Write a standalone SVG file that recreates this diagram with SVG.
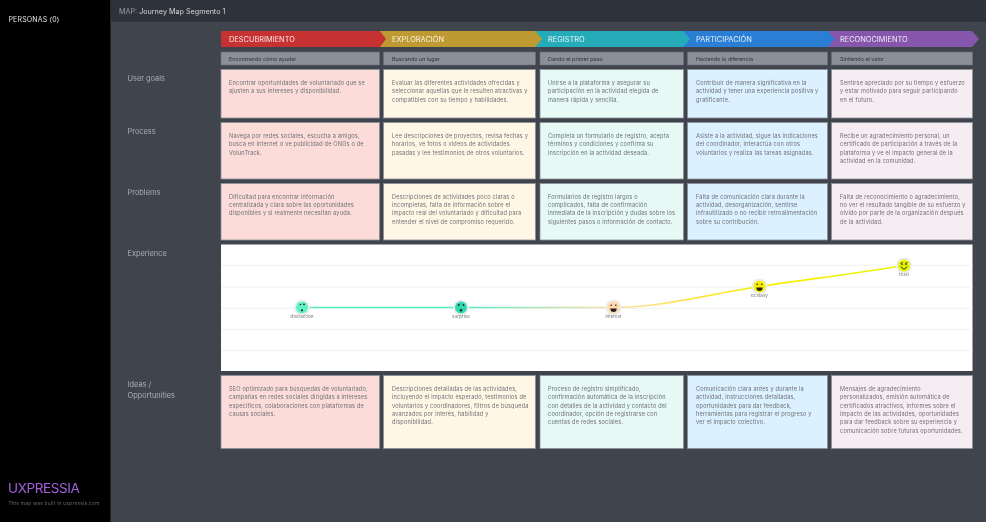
<svg xmlns="http://www.w3.org/2000/svg" width="986" height="522" viewBox="0 0 986 522">
<style>
text{font-family:"Inter","Noto Sans","Liberation Sans",sans-serif}
.card{stroke:#8a8f98;stroke-width:.8}
.c1{fill:#fbdcd9}.c2{fill:#fff7e6}.c3{fill:#e6f9f5}.c4{fill:#dbf1ff}.c5{fill:#f5edf1}
.t{font-size:5.6px;fill:#6f6f74;letter-spacing:.18px}
.sub{fill:#8a8f9a;stroke:#6d717a;stroke-width:.6}
.st{font-size:5.4px;fill:#2f323a}
.ph{font-size:7.4px;fill:#fff;opacity:.88}
.rl{font-size:7.4px;fill:#a9adb4}
.grid{stroke:#f1f1f2;stroke-width:.9}
.halo{fill:#ececee}
.lbl{font-size:4.6px;fill:#77777b;text-anchor:middle}
.f{fill:#222;stroke:none}
.fm{fill:none;stroke:#222;stroke-width:.9}
</style>
<defs>
<filter id="soft" filterUnits="userSpaceOnUse" x="0" y="0" width="986" height="522"><feGaussianBlur stdDeviation=".35"/></filter>
<linearGradient id="g1" gradientUnits="userSpaceOnUse" x1="461" y1="0" x2="613" y2="0"><stop offset="0" stop-color="#55efc0"/><stop offset="1" stop-color="#ffdca8"/></linearGradient>
<linearGradient id="g2" gradientUnits="userSpaceOnUse" x1="613" y1="0" x2="759" y2="0"><stop offset="0" stop-color="#ffdca8"/><stop offset="1" stop-color="#f7ee00"/></linearGradient>
<linearGradient id="g3" gradientUnits="userSpaceOnUse" x1="759" y1="0" x2="904" y2="0"><stop offset="0" stop-color="#f7ee00"/><stop offset="1" stop-color="#e6f500"/></linearGradient>
</defs>
<g filter="url(#soft)">
<rect width="986" height="522" fill="#41454e"/>
<rect width="110.500" height="522" fill="#000"/>
<rect x="110.500" width="875.500" height="22" fill="#2f323a"/>
<g id="sidebar">
<text x="8.500" y="22" font-size="7" fill="#e6e6e6" letter-spacing=".15">PERSONAS (0)</text>
<text x="8" y="493" font-size="13.500" fill="#a45fe0" letter-spacing="-.4">UXPRESSIA</text>
<text x="8.500" y="505" font-size="4.800" fill="#6a6a6e" letter-spacing=".26">This map was built in uxpressia.com</text>
</g>
<g id="title"><text x="119" y="13.500" font-size="7.200" fill="#9a9da4">MAP: <tspan fill="#d5d6d9">Journey Map Segmento 1</tspan></text></g>

<g id="phases">
<path id="ph5" d="M826 31H972L979 39 972 47H826Z" fill="#8557ab"/>
<path id="ph4" d="M683 31H828L834.500 39 828 47H683Z" fill="#2a7fd4"/>
<path id="ph3" d="M535 31H683L690 39 683 47H535Z" fill="#27abb8"/>
<path id="ph2" d="M379 31H535L542 39 535 47H379Z" fill="#bf9a30"/>
<path id="ph1" d="M221 31H380L386 39 380 47H221Z" fill="#c63031"/>
<text class="ph" x="229" y="41.500">DESCUBRIMIENTO</text>
<text class="ph" x="392" y="41.500">EXPLORACIÓN</text>
<text class="ph" x="548" y="41.500">REGISTRO</text>
<text class="ph" x="696" y="41.500">PARTICIPACIÓN</text>
<text class="ph" x="840" y="41.500">RECONOCIMIENTO</text>
</g>

<g id="subheads">
<rect class="sub" x="221" y="52" width="158.500" height="13"/><text class="st" x="229" y="60.500">Encontrando cómo ayudar</text>
<rect class="sub" x="383.500" y="52" width="152" height="13"/><text class="st" x="392" y="60.500">Buscando un lugar</text>
<rect class="sub" x="540" y="52" width="143.500" height="13"/><text class="st" x="548" y="60.500">Dando el primer paso</text>
<rect class="sub" x="687.500" y="52" width="140" height="13"/><text class="st" x="696" y="60.500">Haciendo la diferencia</text>
<rect class="sub" x="831.500" y="52" width="141" height="13"/><text class="st" x="840" y="60.500">Sintiendo el valor</text>
</g>

<g id="row-labels">
<text class="rl" x="127.500" y="81">User goals</text>
<text class="rl" x="127.500" y="134">Process</text>
<text class="rl" x="127.500" y="195">Problems</text>
<text class="rl" x="127.500" y="256">Experience</text>
<text class="rl" x="127.500" y="387">Ideas /</text>
<text class="rl" x="127.500" y="397.500">Opportunities</text>
</g>

<g id="user-goals">
<g id="ug1"><rect class="card c1" x="221" y="69.500" width="158.500" height="48.500"/><text class="t"><tspan x="229" y="85">Encontrar oportunidades de voluntariado que se</tspan><tspan x="229" y="93.300">ajusten a sus intereses y disponibilidad.</tspan></text></g>
<g id="ug2"><rect class="card c2" x="383.500" y="69.500" width="152" height="48.500"/><text class="t"><tspan x="392" y="85">Evaluar las diferentes actividades ofrecidas y</tspan><tspan x="392" y="93.300">seleccionar aquellas que le resulten atractivas y</tspan><tspan x="392" y="101.600">compatibles con su tiempo y habilidades.</tspan></text></g>
<g id="ug3"><rect class="card c3" x="540" y="69.500" width="143.500" height="48.500"/><text class="t"><tspan x="548" y="85">Unirse a la plataforma y asegurar su</tspan><tspan x="548" y="93.300">participación en la actividad elegida de</tspan><tspan x="548" y="101.600">manera rápida y sencilla.</tspan></text></g>
<g id="ug4"><rect class="card c4" x="687.500" y="69.500" width="140" height="48.500"/><text class="t"><tspan x="696" y="85">Contribuir de manera significativa en la</tspan><tspan x="696" y="93.300">actividad y tener una experiencia positiva y</tspan><tspan x="696" y="101.600">gratificante.</tspan></text></g>
<g id="ug5"><rect class="card c5" x="831.500" y="69.500" width="141" height="48.500"/><text class="t"><tspan x="840" y="85">Sentirse apreciado por su tiempo y esfuerzo</tspan><tspan x="840" y="93.300">y estar motivado para seguir participando</tspan><tspan x="840" y="101.600">en el futuro.</tspan></text></g>
</g>

<g id="process">
<g id="pr1"><rect class="card c1" x="221" y="122.500" width="158.500" height="56.500"/><text class="t"><tspan x="229" y="138">Navega por redes sociales, escucha a amigos,</tspan><tspan x="229" y="146.300">busca en internet o ve publicidad de ONGs o de</tspan><tspan x="229" y="154.600">VolunTrack.</tspan></text></g>
<g id="pr2"><rect class="card c2" x="383.500" y="122.500" width="152" height="56.500"/><text class="t"><tspan x="392" y="138">Lee descripciones de proyectos, revisa fechas y</tspan><tspan x="392" y="146.300">horarios, ve fotos o videos de actividades</tspan><tspan x="392" y="154.600">pasadas y lee testimonios de otros voluntarios.</tspan></text></g>
<g id="pr3"><rect class="card c3" x="540" y="122.500" width="143.500" height="56.500"/><text class="t"><tspan x="548" y="138">Completa un formulario de registro, acepta</tspan><tspan x="548" y="146.300">términos y condiciones y confirma su</tspan><tspan x="548" y="154.600">inscripción en la actividad deseada.</tspan></text></g>
<g id="pr4"><rect class="card c4" x="687.500" y="122.500" width="140" height="56.500"/><text class="t"><tspan x="696" y="138">Asiste a la actividad, sigue las indicaciones</tspan><tspan x="696" y="146.300">del coordinador, interactúa con otros</tspan><tspan x="696" y="154.600">voluntarios y realiza las tareas asignadas.</tspan></text></g>
<g id="pr5"><rect class="card c5" x="831.500" y="122.500" width="141" height="56.500"/><text class="t"><tspan x="840" y="138">Recibe un agradecimiento personal, un</tspan><tspan x="840" y="146.300">certificado de participación a través de la</tspan><tspan x="840" y="154.600">plataforma y ve el impacto general de la</tspan><tspan x="840" y="162.900">actividad en la comunidad.</tspan></text></g>
</g>

<g id="problems">
<g id="pb1"><rect class="card c1" x="221" y="183.500" width="158.500" height="56.500"/><text class="t"><tspan x="229" y="198.800">Dificultad para encontrar información</tspan><tspan x="229" y="207.100">centralizada y clara sobre las oportunidades</tspan><tspan x="229" y="215.400">disponibles y si realmente necesitan ayuda.</tspan></text></g>
<g id="pb2"><rect class="card c2" x="383.500" y="183.500" width="152" height="56.500"/><text class="t"><tspan x="392" y="198.800">Descripciones de actividades poco claras o</tspan><tspan x="392" y="207.100">incompletas, falta de información sobre el</tspan><tspan x="392" y="215.400">impacto real del voluntariado y dificultad para</tspan><tspan x="392" y="223.700">entender el nivel de compromiso requerido.</tspan></text></g>
<g id="pb3"><rect class="card c3" x="540" y="183.500" width="143.500" height="56.500"/><text class="t"><tspan x="548" y="198.800">Formularios de registro largos o</tspan><tspan x="548" y="207.100">complicados, falta de confirmación</tspan><tspan x="548" y="215.400">inmediata de la inscripción y dudas sobre los</tspan><tspan x="548" y="223.700">siguientes pasos o información de contacto.</tspan></text></g>
<g id="pb4"><rect class="card c4" x="687.500" y="183.500" width="140" height="56.500"/><text class="t"><tspan x="696" y="198.800">Falta de comunicación clara durante la</tspan><tspan x="696" y="207.100">actividad, desorganización, sentirse</tspan><tspan x="696" y="215.400">infrautilizado o no recibir retroalimentación</tspan><tspan x="696" y="223.700">sobre su contribución.</tspan></text></g>
<g id="pb5"><rect class="card c5" x="831.500" y="183.500" width="141" height="56.500"/><text class="t"><tspan x="840" y="198.800">Falta de reconocimiento o agradecimiento,</tspan><tspan x="840" y="207.100">no ver el resultado tangible de su esfuerzo y</tspan><tspan x="840" y="215.400">olvido por parte de la organización después</tspan><tspan x="840" y="223.700">de la actividad.</tspan></text></g>
</g>

<g id="chart">
<rect x="221" y="244.500" width="751.500" height="126.500" fill="#fff"/>
<path class="grid" d="M221 265.300H972.500M221 287H972.500M221 308.300H972.500M221 329.500H972.500M221 350.500H972.500"/>
</g>
<g id="connectors" fill="none" stroke-width="1.600">
<path d="M302 307.500H461" stroke="#55efc0"/>
<path d="M461 307.500L613.500 307.510" stroke="url(#g1)"/>
<path d="M613.500 307.500C660 307.500 705 295 759.500 286.500" stroke="url(#g2)"/>
<path d="M759.500 286.500C810 279 860 273 904 265.500" stroke="url(#g3)"/>
</g>
<g id="em1"><circle class="halo" cx="302" cy="307.500" r="8"/><circle cx="302" cy="307.500" r="6" fill="#5ff2c4"/><circle class="f" cx="300.500" cy="304.500" r=".8"/><circle class="f" cx="304" cy="304.300" r=".9"/><circle class="f" cx="302" cy="310.300" r="1.100"/><text class="lbl" x="302" y="318">distraction</text></g>
<g id="em2"><circle class="halo" cx="461" cy="307.500" r="8"/><circle cx="461" cy="307.500" r="6" fill="#2fd9b0"/><circle class="f" cx="458.800" cy="305" r=".9"/><circle class="f" cx="463.500" cy="305" r=".9"/><circle class="f" cx="461" cy="310.300" r="1.200"/><text class="lbl" x="461" y="318">surprise</text></g>
<g id="em3"><circle class="halo" cx="613.500" cy="307.500" r="8"/><circle cx="613.500" cy="307.500" r="6" fill="#ffd9a8"/><circle class="f" cx="611.200" cy="305.300" r=".8"/><circle class="f" cx="615.800" cy="305.300" r=".8"/><path class="f" d="M610.300 308.500H616.700Q616.500 312 613.500 312T610.300 308.500Z"/><text class="lbl" x="613.500" y="318">interest</text></g>
<g id="em4"><circle class="halo" cx="759.500" cy="286.500" r="8"/><circle cx="759.500" cy="286.500" r="6" fill="#f7ee00"/><circle class="f" cx="757.200" cy="284.300" r=".8"/><circle class="f" cx="761.800" cy="284.300" r=".8"/><path class="f" d="M756.300 287.500H762.700Q762.500 291 759.500 291T756.300 287.500Z"/><text class="lbl" x="759.500" y="297">ecstasy</text></g>
<g id="em5"><circle class="halo" cx="904" cy="265.500" r="8"/><circle cx="904" cy="265.500" r="6" fill="#e6f500"/><path class="fm" d="M900.500 263.500L903 262.500M905 263.500L907.500 262.500M900.800 266.500Q904 271.500 907.200 266.500"/><circle class="f" cx="902" cy="264.500" r=".7"/><circle class="f" cx="906" cy="264.500" r=".7"/><text class="lbl" x="904" y="276">trust</text></g>

<g id="ideas">
<g id="id1"><rect class="card c1" x="221" y="375.500" width="158.500" height="73"/><text class="t"><tspan x="229" y="391">SEO optimizado para búsquedas de voluntariado,</tspan><tspan x="229" y="399.300">campañas en redes sociales dirigidas a intereses</tspan><tspan x="229" y="407.600">específicos, colaboraciones con plataformas de</tspan><tspan x="229" y="415.900">causas sociales.</tspan></text></g>
<g id="id2"><rect class="card c2" x="383.500" y="375.500" width="152" height="73"/><text class="t"><tspan x="392" y="391">Descripciones detalladas de las actividades,</tspan><tspan x="392" y="399.300">incluyendo el impacto esperado, testimonios de</tspan><tspan x="392" y="407.600">voluntarios y coordinadores, filtros de búsqueda</tspan><tspan x="392" y="415.900">avanzados por interés, habilidad y</tspan><tspan x="392" y="424.200">disponibilidad.</tspan></text></g>
<g id="id3"><rect class="card c3" x="540" y="375.500" width="143.500" height="73"/><text class="t"><tspan x="548" y="391">Proceso de registro simplificado,</tspan><tspan x="548" y="399.300">confirmación automática de la inscripción</tspan><tspan x="548" y="407.600">con detalles de la actividad y contacto del</tspan><tspan x="548" y="415.900">coordinador, opción de registrarse con</tspan><tspan x="548" y="424.200">cuentas de redes sociales.</tspan></text></g>
<g id="id4"><rect class="card c4" x="687.500" y="375.500" width="140" height="73"/><text class="t"><tspan x="696" y="391">Comunicación clara antes y durante la</tspan><tspan x="696" y="399.300">actividad, instrucciones detalladas,</tspan><tspan x="696" y="407.600">oportunidades para dar feedback,</tspan><tspan x="696" y="415.900">herramientas para registrar el progreso y</tspan><tspan x="696" y="424.200">ver el impacto colectivo.</tspan></text></g>
<g id="id5"><rect class="card c5" x="831.500" y="375.500" width="141" height="73"/><text class="t"><tspan x="840" y="391">Mensajes de agradecimiento</tspan><tspan x="840" y="399.300">personalizados, emisión automática de</tspan><tspan x="840" y="407.600">certificados atractivos, informes sobre el</tspan><tspan x="840" y="415.900">impacto de las actividades, oportunidades</tspan><tspan x="840" y="424.200">para dar feedback sobre su experiencia y</tspan><tspan x="840" y="432.500">comunicación sobre futuras oportunidades.</tspan></text></g>
</g>
</g>
</svg>
